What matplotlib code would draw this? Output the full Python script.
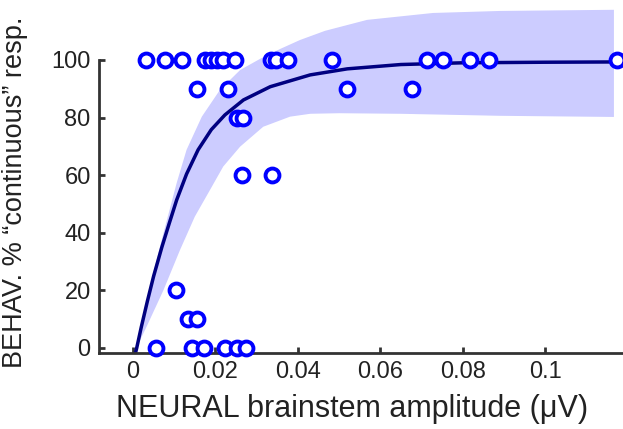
import numpy as np
import matplotlib
matplotlib.use('Agg')
import matplotlib.pyplot as plt

# scatter data: amplitude (uV) and % "continuous" responses
amp_pts = [0.0032, 0.0078, 0.0119, 0.0175, 0.0189, 0.0204, 0.0218, 0.0248,
           0.0335, 0.0347, 0.0376, 0.0483, 0.0714, 0.0752, 0.0818, 0.0864, 0.1175,
           0.0155, 0.0231, 0.0519, 0.0677,
           0.0252, 0.0267,
           0.0265, 0.0337,
           0.0104,
           0.0133, 0.0155,
           0.0056, 0.0143, 0.0172, 0.0223, 0.0252, 0.0274]
resp_pts = [100] * 17 + [90] * 4 + [80] * 2 + [60] * 2 + [20] + [10] * 2 + [0] * 6

# fitted curve
fit_x = [0.0006, 0.0009, 0.0020, 0.0035, 0.0050, 0.0070, 0.0088, 0.0106, 0.0130,
         0.0158, 0.0190, 0.0223, 0.0268, 0.0333, 0.0430, 0.0520, 0.0650, 0.0800,
         0.1000, 0.1175]
fit_y = [-1.8, 0.0, 7.2, 16.3, 24.9, 35.0, 43.3, 51.4, 60.4,
         68.8, 75.8, 80.9, 86.1, 90.7, 94.8, 96.9, 98.4, 99.0,
         99.2, 99.3]

# confidence band edges
up_x = [0.0008, 0.0017, 0.0043, 0.0074, 0.0106, 0.0130, 0.0167, 0.0211, 0.0260,
        0.0310, 0.0357, 0.0405, 0.0466, 0.0568, 0.0728, 0.0891, 0.1167]
up_y = [0.0, 5.2, 22.6, 39.9, 57.3, 68.8, 80.3, 89.6, 96.5,
        100.5, 103.8, 106.9, 110.1, 113.9, 116.3, 117.0, 117.4]
lo_x = [0.0008, 0.0033, 0.0074, 0.0114, 0.0150, 0.0187, 0.0219, 0.0260, 0.0316,
        0.0381, 0.0430, 0.0500, 0.0648, 0.0891, 0.1167]
lo_y = [0.0, 7.4, 20.1, 34.0, 45.6, 54.9, 63.0, 69.9, 76.8,
        80.3, 81.3, 81.5, 81.3, 80.6, 80.2]

xticks = [0, 0.02, 0.04, 0.06, 0.08, 0.1]
xtick_labels = ['0', '0.02', '0.04', '0.06', '0.08', '0.1']
yticks = [0, 20, 40, 60, 80, 100]

plt.rcParams['font.family'] = ['Liberation Sans', 'DejaVu Sans']
txt = '#222222'

fig = plt.figure(figsize=(6.23, 4.29), dpi=100)
ax = fig.add_axes([99 / 623, 76 / 429, 1 - 99 / 623, 1 - 76 / 429])

band_x = up_x + lo_x[::-1]
band_y = up_y + lo_y[::-1]
ax.fill(band_x, band_y, color='#ccccff', lw=0, zorder=1)
ax.plot(fit_x, fit_y, color='#000080', lw=2.5, zorder=2, solid_joinstyle='round')
ax.plot(amp_pts, resp_pts, 'o', ms=10, mfc='white', mec='#0000ff', mew=2.8,
        zorder=3, clip_on=False)

ax.set_xlim(-0.00825, 0.1189)
ax.set_ylim(-1.74, 120.8)
ax.set_xticks(xticks)
ax.set_xticklabels(xtick_labels)
ax.set_yticks(yticks)

for s in ['top', 'right']:
    ax.spines[s].set_visible(False)
for s in ['left', 'bottom']:
    ax.spines[s].set_color('#333333')
    ax.spines[s].set_linewidth(2)
ax.spines['left'].set_bounds(-1.74, 100)
ax.tick_params(direction='in', length=4, width=2, color='#333333',
               labelsize=17, labelcolor=txt, pad=6)

ax.set_xlabel('NEURAL brainstem amplitude (\u03bcV)', fontsize=22, color=txt)
ax.set_ylabel('BEHAV. % \u201ccontinuous\u201d resp.', fontsize=19.5, color=txt)
ax.xaxis.set_label_coords(0.483, -0.115)
ax.yaxis.set_label_coords(-0.135, 0.456)

fig.savefig('out.png', dpi=100)
